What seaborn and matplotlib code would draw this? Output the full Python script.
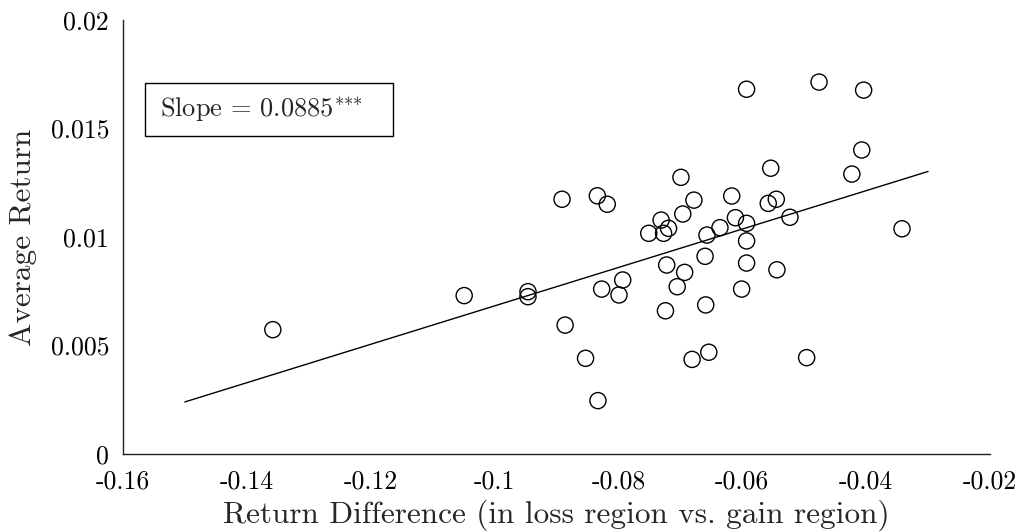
import matplotlib
matplotlib.use("Agg")
import matplotlib.pyplot as plt
from matplotlib.patches import Rectangle
import seaborn as sns
import pandas as pd

# ---- data ----
return_diff = [-0.1358, -0.1049, -0.0946, -0.0946, -0.0891, -0.0886, -0.0853, -0.0834,
               -0.0833, -0.0827, -0.0818, -0.0799, -0.0793, -0.0751, -0.0731, -0.0727,
               -0.0724, -0.0722, -0.0719, -0.0705, -0.0699, -0.0696, -0.0693, -0.0681,
               -0.0678, -0.0660, -0.0659, -0.0657, -0.0654, -0.0636, -0.0617, -0.0611,
               -0.0601, -0.0593, -0.0593, -0.0593, -0.0593, -0.0558, -0.0554, -0.0545,
               -0.0544, -0.0523, -0.0496, -0.0476, -0.0423, -0.0407, -0.0404, -0.0342]
avg_return = [0.00573, 0.00730, 0.00748, 0.00725, 0.01174, 0.00594, 0.00441, 0.01190,
              0.00246, 0.00760, 0.01151, 0.00733, 0.00802, 0.01017, 0.01078, 0.01017,
              0.00660, 0.00871, 0.01040, 0.00771, 0.01275, 0.01106, 0.00837, 0.00436,
              0.01170, 0.00911, 0.00687, 0.01009, 0.00469, 0.01043, 0.01189, 0.01089,
              0.00760, 0.01681, 0.01063, 0.00982, 0.00880, 0.01155, 0.01317, 0.01174,
              0.00849, 0.01091, 0.00444, 0.01714, 0.01290, 0.01401, 0.01677, 0.01038]

fit_x = [-0.15, -0.03]
fit_y = [0.00240, 0.01302]

x_ticks = [-0.16, -0.14, -0.12, -0.10, -0.08, -0.06, -0.04, -0.02]
x_tick_labels = ["-0.16", "-0.14", "-0.12", "-0.1", "-0.08", "-0.06", "-0.04", "-0.02"]
y_ticks = [0.0, 0.005, 0.01, 0.015, 0.02]
y_tick_labels = ["0", "0.005", "0.01", "0.015", "0.02"]

x_label = "Return Difference (in loss region vs. gain region)"
y_label = "Average Return"
annotation = r"Slope = 0.0885$^{{*}{*}{*}}$"

# ---- style ----
sns.set_theme(style="white")
plt.rcParams["font.family"] = ["cmr10", "DejaVu Serif"]
plt.rcParams["mathtext.fontset"] = "cm"
plt.rcParams["axes.unicode_minus"] = False
plt.rcParams["axes.formatter.use_mathtext"] = True

fig = plt.figure(figsize=(10.23, 5.32), dpi=100)
ax = fig.add_axes([0.1202, 0.1466, 0.8475, 0.8158])

df = pd.DataFrame({"x": return_diff, "y": avg_return})
sns.scatterplot(data=df, x="x", y="y", ax=ax, marker="o", s=135,
                facecolors="none", edgecolor="black", linewidth=1.0, zorder=3)
sns.lineplot(x=fit_x, y=fit_y, ax=ax, color="black", linewidth=1.0, zorder=2)

ax.set_xlim(-0.16, -0.02)
ax.set_ylim(0, 0.02)
ax.set_xticks(x_ticks)
ax.set_xticklabels(x_tick_labels)
ax.set_yticks(y_ticks)
ax.set_yticklabels(y_tick_labels)

for side in ["top", "right"]:
    ax.spines[side].set_visible(False)
for side in ["left", "bottom"]:
    ax.spines[side].set_color("#222222")
    ax.spines[side].set_linewidth(1.0)

ax.tick_params(axis="both", direction="in", length=7, width=1.0, colors="#222222",
               labelsize=18.5, labelcolor="black")
ax.tick_params(axis="y", pad=10)
ax.tick_params(axis="x", pad=11)
ax.set_xlabel(x_label, fontsize=22.5, labelpad=5)
ax.set_ylabel(y_label, fontsize=22.5, labelpad=10)

ax.add_patch(Rectangle((0.0254, 0.7327), 0.286, 0.1221, transform=ax.transAxes,
                       facecolor="white", edgecolor="black", linewidth=1.0, zorder=4))
ax.text(0.0427, 0.7938, annotation, transform=ax.transAxes, fontsize=19,
        va="center", ha="left", zorder=5)

fig.savefig("out.png", dpi=100)
